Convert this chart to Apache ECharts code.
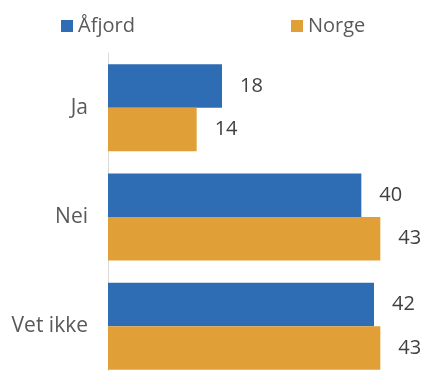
<!DOCTYPE html>
<html><head><meta charset="utf-8">
<script src="https://cdn.jsdelivr.net/npm/echarts@6/dist/echarts.min.js"></script>
<style>html,body{margin:0;padding:0;background:#fff;overflow:hidden}#c{width:422px;height:382px}</style>
</head><body><div id="c"></div>
<script>
const categories = ['Ja', 'Nei', 'Vet ikke'];
const seriesNames = ['Åfjord', 'Norge'];
const afjord = [18, 40, 42];
const norge = [14, 43, 43];
const colors = ['#2E6DB4', '#E09F37'];
const font = '"Open Sans", sans-serif';
const chart = echarts.init(document.getElementById('c'));
const lbl = {show:true, position:'right', distance:18, color:'#404040', fontSize:20, fontFamily:font};
chart.setOption({
  animation:false,
  legend:[
    {data:[seriesNames[0]], left:61, top:16, padding:0, icon:'rect', itemWidth:12, itemHeight:12, itemGap:5,
     textStyle:{fontSize:20, color:'#595959', fontFamily:font}},
    {data:[seriesNames[1]], left:291, top:16, padding:0, icon:'rect', itemWidth:12, itemHeight:12, itemGap:5,
     textStyle:{fontSize:20, color:'#595959', fontFamily:font}}
  ],
  grid:{left:108, top:53, width:285, height:328, containLabel:false},
  xAxis:{type:'value', min:0, max:45, show:false},
  yAxis:{type:'category', data:categories, inverse:true,
    axisLine:{show:true, lineStyle:{color:'#D9D9D9', width:1}},
    axisTick:{show:false},
    axisLabel:{color:'#595959', fontSize:21, fontFamily:font, margin:20}},
  series:[
    {name:seriesNames[0], type:'bar', data:afjord, itemStyle:{color:colors[0]}, barGap:'0%', barCategoryGap:'20.5%', label:lbl},
    {name:seriesNames[1], type:'bar', data:norge, itemStyle:{color:colors[1]}, barGap:'0%', barCategoryGap:'20.5%', label:lbl}
  ]
});
</script></body></html>
